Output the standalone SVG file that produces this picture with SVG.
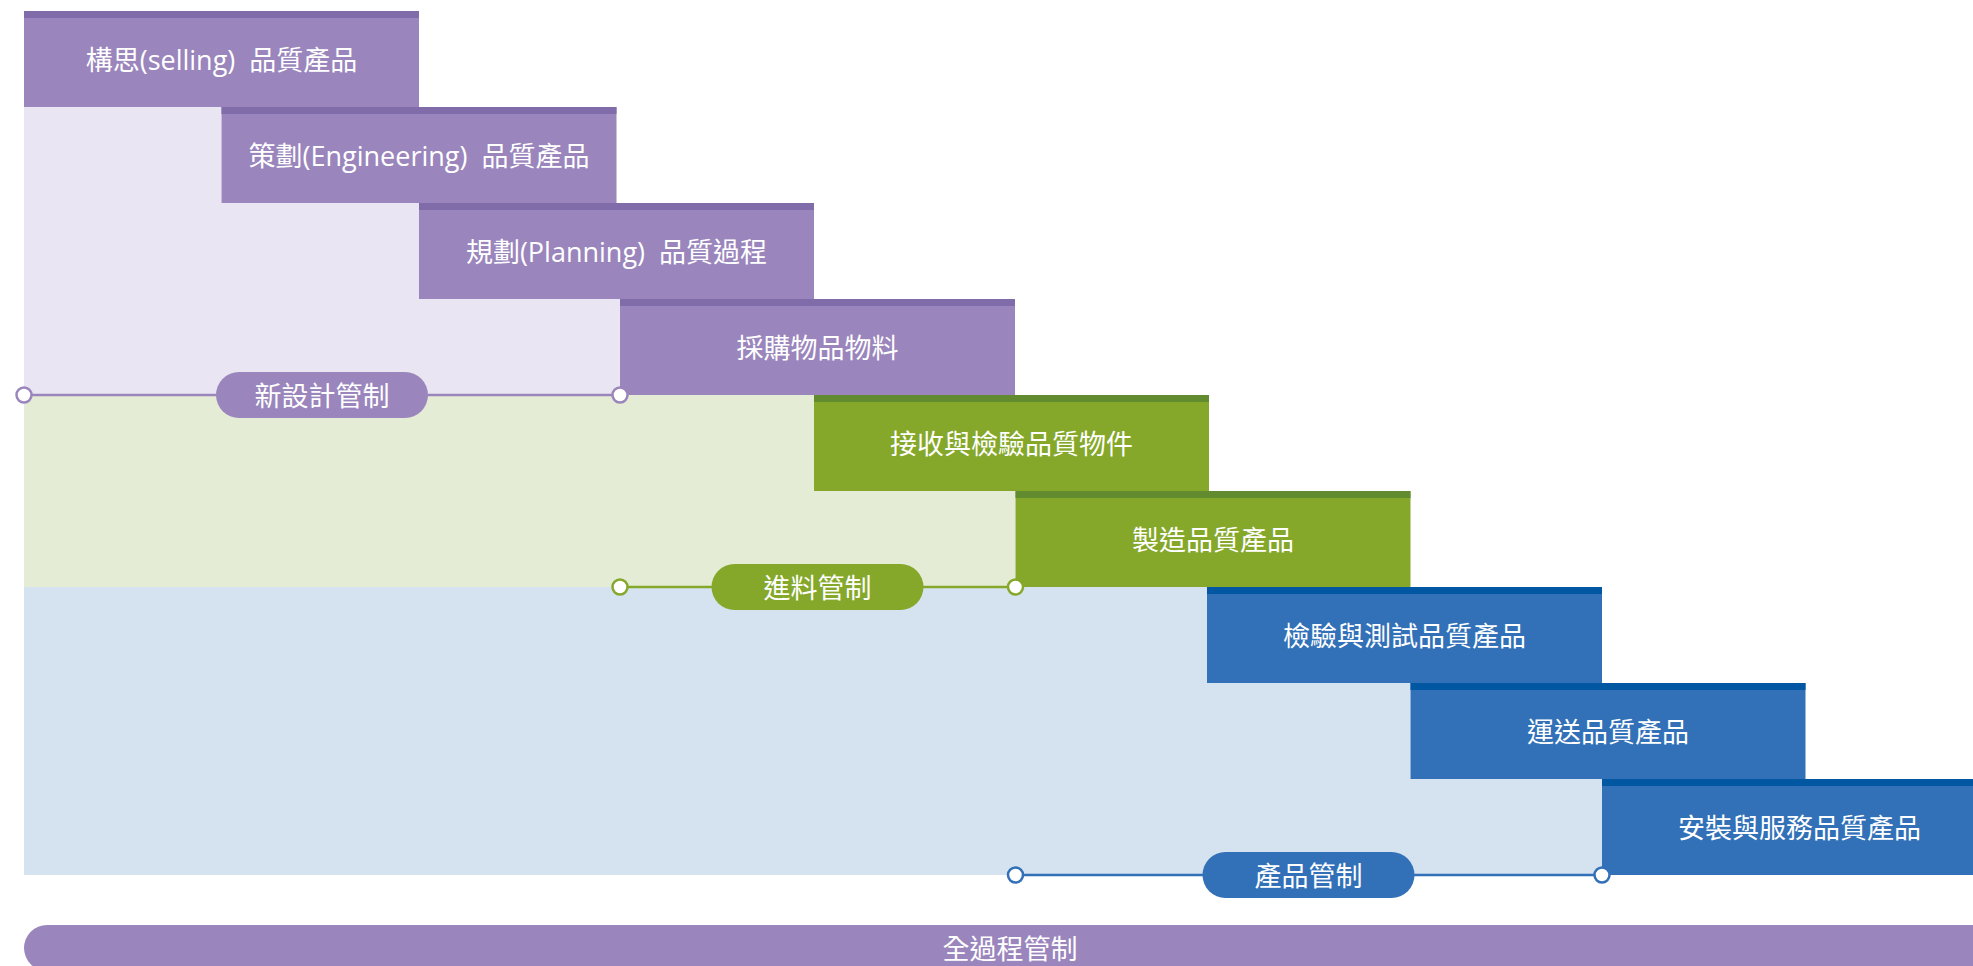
<svg xmlns="http://www.w3.org/2000/svg" width="1973" height="966" viewBox="0 0 1973 966">
<defs>
<style>
.t{font-family:"Open Sans","Noto Sans CJK TC","Noto Sans CJK SC",sans-serif;font-size:27px;fill:#ffffff;text-anchor:middle;dominant-baseline:central;white-space:pre}
.pb{fill:#9A86BC}.pd{fill:#7F6CA8}
.gb{fill:#85A82A}.gd{fill:#628A2F}
.bb{fill:#3271B8}.bd{fill:#0157A1}
.cp{fill:#ffffff;stroke:#9A86BC;stroke-width:2.5}
.cg{fill:#ffffff;stroke:#85A82A;stroke-width:2.5}
.cb{fill:#ffffff;stroke:#3271B8;stroke-width:2.5}
</style>
</defs>
<rect width="1973" height="966" fill="#ffffff"/>
<g id="bands">
<polygon fill="#E9E5F2" points="24,107 221.5,107 221.5,203 419,203 419,299 620,299 620,395 24,395"/>
<polygon fill="#E4ECD6" points="24,395 814,395 814,491 1015.5,491 1015.5,587 24,587"/>
<polygon fill="#D5E3F0" points="24,587 1207,587 1207,683 1410.5,683 1410.5,779 1602,779 1602,875 24,875"/>
</g>
<g id="node-1"><rect class="pb" x="24" y="11" width="395" height="96"/><rect class="pd" x="24" y="11" width="395" height="7"/><text class="t" x="221.5" y="59" xml:space="preserve">構思(selling)  品質產品</text></g>
<g id="node-2"><rect class="pb" x="221.5" y="107" width="395" height="96"/><rect class="pd" x="221.5" y="107" width="395" height="7"/><text class="t" x="419" y="155" xml:space="preserve">策劃(Engineering)  品質產品</text></g>
<g id="node-3"><rect class="pb" x="419" y="203" width="395" height="96"/><rect class="pd" x="419" y="203" width="395" height="7"/><text class="t" x="616.5" y="251" xml:space="preserve">規劃(Planning)  品質過程</text></g>
<g id="node-4"><rect class="pb" x="620" y="299" width="395" height="96"/><rect class="pd" x="620" y="299" width="395" height="7"/><text class="t" x="817.5" y="347">採購物品物料</text></g>
<g id="node-5"><rect class="gb" x="814" y="395" width="395" height="96"/><rect class="gd" x="814" y="395" width="395" height="7"/><text class="t" x="1011.5" y="443">接收與檢驗品質物件</text></g>
<g id="node-6"><rect class="gb" x="1015.5" y="491" width="395" height="96"/><rect class="gd" x="1015.5" y="491" width="395" height="7"/><text class="t" x="1213" y="539">製造品質產品</text></g>
<g id="node-7"><rect class="bb" x="1207" y="587" width="395" height="96"/><rect class="bd" x="1207" y="587" width="395" height="7"/><text class="t" x="1404.5" y="635">檢驗與測試品質產品</text></g>
<g id="node-8"><rect class="bb" x="1410.5" y="683" width="395" height="96"/><rect class="bd" x="1410.5" y="683" width="395" height="7"/><text class="t" x="1608" y="731">運送品質產品</text></g>
<g id="node-9"><rect class="bb" x="1602" y="779" width="395" height="96"/><rect class="bd" x="1602" y="779" width="395" height="7"/><text class="t" x="1799.5" y="827">安裝與服務品質產品</text></g>
<g id="connectors">
<line x1="24" y1="395" x2="620" y2="395" stroke="#9A86BC" stroke-width="2.5"/>
<line x1="620" y1="587" x2="1015.5" y2="587" stroke="#85A82A" stroke-width="2.5"/>
<line x1="1015.5" y1="875" x2="1602" y2="875" stroke="#3271B8" stroke-width="2.5"/>
<circle class="cp" cx="24" cy="395" r="7.5"/>
<circle class="cp" cx="620" cy="395" r="7.5"/>
<circle class="cg" cx="620" cy="587" r="7.5"/>
<circle class="cg" cx="1015.5" cy="587" r="7.5"/>
<circle class="cb" cx="1015.5" cy="875" r="7.5"/>
<circle class="cb" cx="1602" cy="875" r="7.5"/>
</g>
<g id="label-new-design"><rect class="pb" x="216" y="372" width="212" height="46" rx="23"/><text class="t" x="322" y="395">新設計管制</text></g>
<g id="label-incoming"><rect class="gb" x="711.5" y="564" width="212" height="46" rx="23"/><text class="t" x="817.5" y="587">進料管制</text></g>
<g id="label-product"><rect class="bb" x="1202.5" y="852" width="212" height="46" rx="23"/><text class="t" x="1308.5" y="875">產品管制</text></g>
<g id="label-whole-process"><rect class="pb" x="24" y="925" width="1973" height="46" rx="23"/><text class="t" x="1010" y="948">全過程管制</text></g>
</svg>
